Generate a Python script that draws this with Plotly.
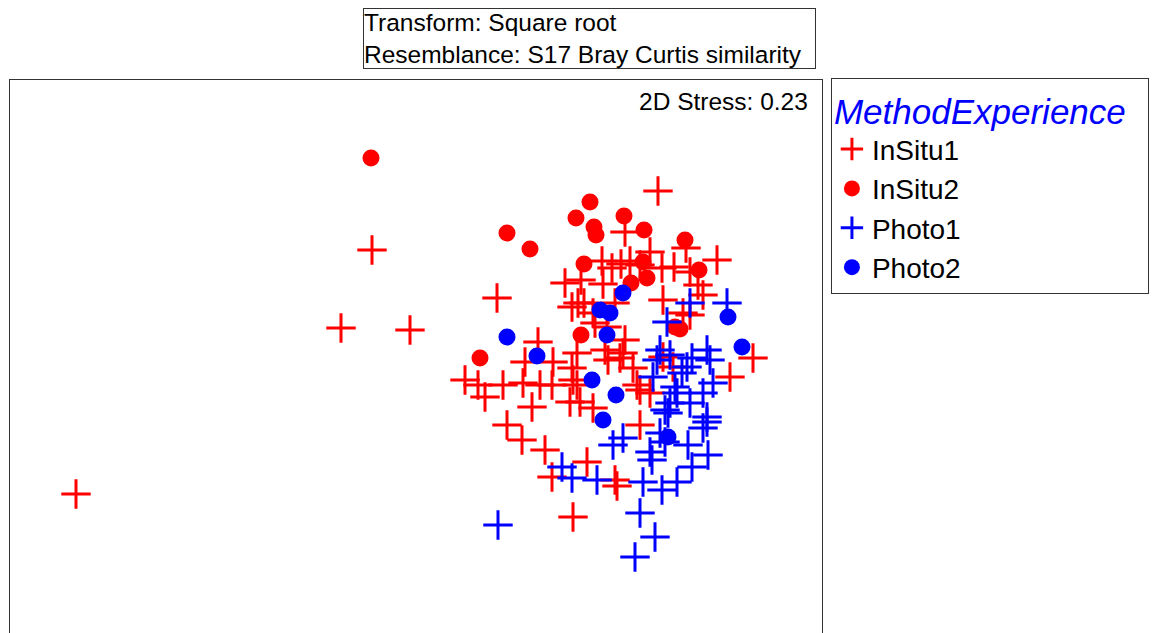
import plotly.graph_objects as go

# nMDS ordination positions (screen-like units, y grows downward)
insitu1_x = [372, 341, 410, 76, 658, 497, 625, 650, 686, 717, 602, 612, 621, 630, 640, 662, 674, 690,
             565, 581, 603, 698, 703, 663, 690, 683, 578, 572, 584, 615, 593, 595, 607, 538, 625,
             577, 605, 608, 623, 553, 525, 572, 573, 620, 633, 663, 673, 730, 753, 465, 478, 485,
             503, 523, 540, 552, 577, 637, 650, 640, 532, 570, 580, 593, 507, 522, 545, 587, 640,
             552, 615, 617, 573]
insitu1_y = [250, 328, 330, 494, 191, 298, 232, 252, 248, 260, 261, 268, 264, 261, 265, 268, 267, 272,
             283, 280, 284, 285, 295, 300, 315, 313, 303, 307, 303, 303, 313, 323, 327, 342, 340,
             353, 350, 360, 353, 362, 362, 368, 380, 358, 368, 357, 367, 377, 358, 380, 385, 397,
             385, 383, 385, 385, 385, 385, 393, 390, 407, 402, 402, 408, 425, 440, 450, 462, 425,
             477, 480, 486, 517]

insitu2_x = [371, 507, 530, 576, 590, 594, 596, 624, 644, 685, 584, 643, 647, 699, 631, 480, 581, 675, 680]
insitu2_y = [158, 233, 249, 218, 202, 227, 235, 216, 230, 240, 264, 262, 278, 270, 283, 358, 335, 327, 329]

photo1_x = [690, 727, 667, 660, 657, 653, 670, 692, 707, 710, 682, 687, 675, 677, 670, 665, 713, 703,
            690, 707, 668, 707, 703, 613, 623, 660, 665, 688, 650, 652, 708, 692, 562, 572, 597,
            643, 662, 677, 498, 640, 655, 635]
photo1_y = [303, 303, 322, 350, 360, 377, 355, 358, 350, 360, 373, 367, 387, 393, 403, 410, 383, 393,
            403, 417, 413, 422, 428, 445, 438, 433, 442, 445, 452, 460, 455, 467, 467, 478, 480,
            482, 490, 482, 525, 513, 537, 557]

photo2_x = [507, 537, 623, 600, 610, 607, 728, 742, 592, 616, 603, 668]
photo2_y = [337, 356, 293, 310, 313, 335, 317, 347, 380, 395, 420, 437]

FONT = "Liberation Sans, Arial, sans-serif"

fig = go.Figure()
fig.add_trace(go.Scatter(x=insitu1_x, y=insitu1_y, mode="markers", name="InSitu1",
                         marker=dict(symbol="cross-thin", size=21, line=dict(width=3, color="#ff0000"))))
fig.add_trace(go.Scatter(x=insitu2_x, y=insitu2_y, mode="markers", name="InSitu2",
                         marker=dict(symbol="circle", size=17, color="#ff0000")))
fig.add_trace(go.Scatter(x=photo1_x, y=photo1_y, mode="markers", name="Photo1",
                         marker=dict(symbol="cross-thin", size=21, line=dict(width=3, color="#0000ff"))))
fig.add_trace(go.Scatter(x=photo2_x, y=photo2_y, mode="markers", name="Photo2",
                         marker=dict(symbol="circle", size=17, color="#0000ff")))

fig.update_xaxes(range=[10, 822], showgrid=False, zeroline=False, showticklabels=False, ticks="",
                 showline=True, mirror=True, linecolor="#333", linewidth=1)
fig.update_yaxes(range=[633, 80], showgrid=False, zeroline=False, showticklabels=False, ticks="",
                 showline=True, mirror=True, linecolor="#333", linewidth=1)

fig.add_annotation(text="2D Stress: 0.23", xref="paper", yref="paper", x=0.985, y=0.99,
                   xanchor="right", yanchor="top", showarrow=False,
                   font=dict(family=FONT, size=24.5, color="black"))
fig.add_annotation(text="Transform: Square root<br>Resemblance: S17 Bray Curtis similarity&nbsp;&nbsp;",
                   xref="paper", yref="paper", x=0.435, y=1.13, xanchor="left", yanchor="top",
                   align="left", showarrow=False, bordercolor="#333", borderwidth=1, borderpad=0,
                   font=dict(family=FONT, size=24.5, color="black"))

fig.update_layout(
    width=1151, height=625, margin=dict(l=2, r=337, t=72, b=0),
    paper_bgcolor="white", plot_bgcolor="white",
    font=dict(family=FONT),
    legend=dict(x=1.011, y=1.004, xanchor="left", yanchor="top",
                bordercolor="#333", borderwidth=1, bgcolor="white",
                font=dict(family=FONT, size=28, color="black"),
                title=dict(text="MethodExperience  ", font=dict(family=FONT, size=35, color="#0000ff", style="italic")),
                itemsizing="trace", tracegroupgap=0),
)

fig.write_html("out.html")
